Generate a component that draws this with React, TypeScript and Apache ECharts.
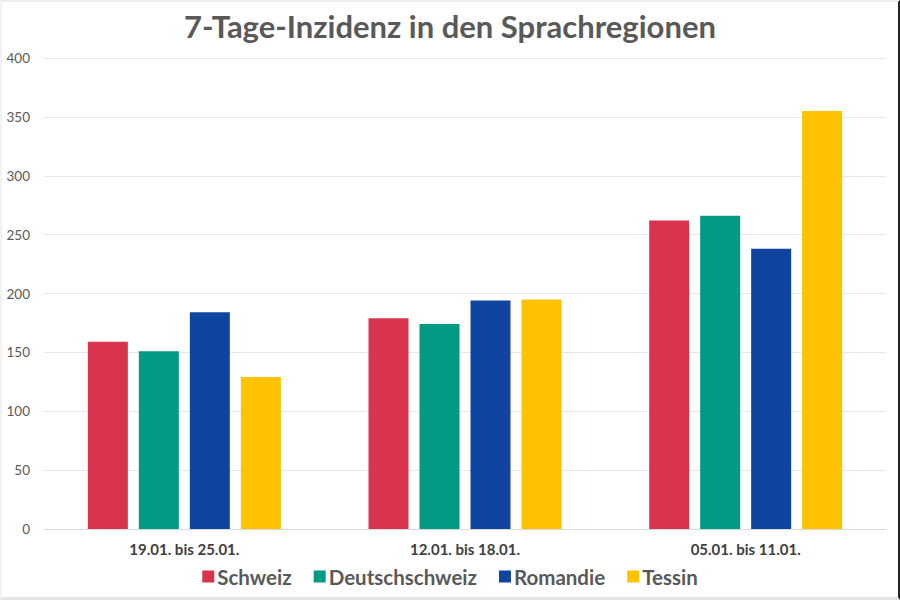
import React, { useEffect, useRef } from "react";
import * as echarts from "echarts";

const categories = ["19.01. bis 25.01.", "12.01. bis 18.01.", "05.01. bis 11.01."];
const seriesNames = ["Schweiz", "Deutschschweiz", "Romandie", "Tessin"];
const schweiz = [159, 179, 262];
const deutschschweiz = [151, 174, 266];
const romandie = [184, 194, 238];
const tessin = [129, 195, 355];
const colors = ["#D9344E", "#009A85", "#0F45A0", "#FFC200"];

export default function App() {
  const ref = useRef<HTMLDivElement>(null);
  useEffect(() => {
    if (!ref.current) return;
    const chart = echarts.init(ref.current, undefined, { renderer: "svg" });
    const values = [schweiz, deutschschweiz, romandie, tessin];
    chart.setOption({
      animation: false,
      backgroundColor: "#ffffff",
      textStyle: { fontFamily: "Lato" },
      title: {
        text: "7-Tage-Inzidenz in den Sprachregionen",
        left: "center",
        top: 3,
        textStyle: { fontFamily: "Lato", fontWeight: "bold", fontSize: 31, color: "#595959" },
      },
      legend: {
        bottom: 5,
        left: "center",
        itemWidth: 12,
        itemHeight: 12,
        itemGap: 22,
        icon: "rect",
        data: seriesNames,
        textStyle: { fontFamily: "Lato", fontWeight: "bold", fontSize: 20.5, color: "#595959", padding: [0, 0, 0, -2] },
      },
      grid: { left: 42, right: 12, top: 56, bottom: 68, containLabel: false },
      xAxis: {
        type: "category",
        data: categories,
        axisLine: { lineStyle: { color: "#D9D9D9" } },
        axisTick: { show: false },
        axisLabel: { fontFamily: "Lato", fontWeight: "bold", fontSize: 15, color: "#404040", margin: 12 },
      },
      yAxis: {
        type: "value",
        min: 0,
        max: 400,
        interval: 50,
        axisLine: { show: false },
        axisTick: { show: false },
        axisLabel: { fontFamily: "Lato", fontSize: 13.5, color: "#595959", margin: 14 },
        splitLine: { lineStyle: { color: "#E6E6EA" } },
      },
      series: seriesNames.map((name, i) => ({
        name,
        type: "bar",
        data: values[i],
        barWidth: 40,
        barGap: "27.5%",
        itemStyle: { color: colors[i] },
      })),
    });
    return () => chart.dispose();
  }, []);
  return (
    <div
      style={{
        position: "fixed",
        left: 0,
        top: 0,
        width: 900,
        height: 600,
        boxSizing: "border-box",
        borderTop: "2px solid #EEEEEE",
        borderLeft: "2px solid #F2F2F2",
        borderBottom: "3px solid #E6E6E6",
        borderRight: "2px solid #222222",
        background: "#fff",
      }}
    >
      <div ref={ref} style={{ width: 896, height: 595 }} />
    </div>
  );
}
